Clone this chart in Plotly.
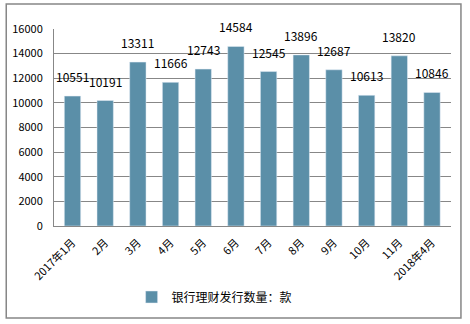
import plotly.graph_objects as go

categories = ["2017年1月", "2月", "3月", "4月", "5月", "6月", "7月", "8月", "9月", "10月", "11月", "2018年4月"]
values = [10551, 10191, 13311, 11666, 12743, 14584, 12545, 13896, 12687, 10613, 13820, 10846]
series_name = "银行理财发行数量：款"
y_ticks = [0, 2000, 4000, 6000, 8000, 10000, 12000, 14000, 16000]

font_family = "Noto Sans CJK SC, DejaVu Sans, sans-serif"

fig = go.Figure()
fig.add_trace(go.Bar(
    x=categories, y=values, name=series_name,
    marker_color="#5B8FA8",
    cliponaxis=False,
))

annotations = [dict(x=c, y=v, text=str(v), showarrow=False, xref="x", yref="y",
                    yanchor="bottom", yshift=9,
                    font=dict(size=12, color="#000000", family=font_family))
               for c, v in zip(categories, values)]

L, R, T, B = 52, 451, 29, 226
W, H = 470, 324
def fx(px): return (px - L) / (R - L)
def fy(py): return (B - py) / (B - T)

fig.update_layout(
    width=W, height=H,
    margin=dict(l=L, r=W - R, t=T, b=H - B),
    paper_bgcolor="white", plot_bgcolor="white",
    bargap=0.5,
    showlegend=True,
    legend=dict(x=fx(130), y=fy(297), xanchor="left", yanchor="middle",
                orientation="h", font=dict(size=12, color="#000000", family=font_family),
                itemwidth=30),
    font=dict(family=font_family, color="#000000"),
    xaxis=dict(tickangle=-45, tickfont=dict(size=11, family=font_family, color="#000000"),
               showline=True, linecolor="#878787", linewidth=1, showgrid=False,
               ticks="outside", ticklen=5, tickcolor="rgba(0,0,0,0)", fixedrange=True),
    yaxis=dict(range=[0, 16000], tickvals=y_ticks, ticktext=[str(v) for v in y_ticks],
               tickfont=dict(size=11, family=font_family, color="#000000"),
               showline=True, linecolor="#878787", linewidth=1,
               showgrid=True, gridcolor="#878787", gridwidth=1,
               ticks="outside", ticklen=8, tickcolor="rgba(0,0,0,0)", zeroline=False),
    annotations=annotations,
    shapes=[dict(type="rect", xref="paper", yref="paper",
                 x0=fx(4), x1=fx(461), y0=fy(318), y1=fy(4),
                 line=dict(color="#878787", width=1.5), fillcolor="rgba(0,0,0,0)", layer="below")],
)

fig.write_html("out.html")
